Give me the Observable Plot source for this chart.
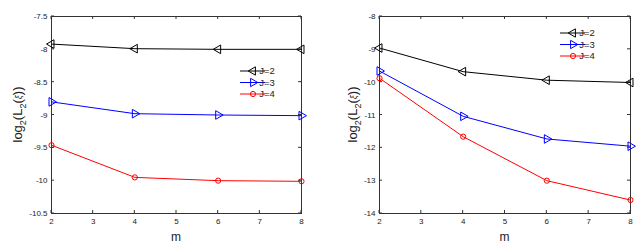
<!DOCTYPE html>
<html><head><meta charset="utf-8">
<script src="https://cdn.jsdelivr.net/npm/d3@7"></script>
<script src="https://cdn.jsdelivr.net/npm/@observablehq/plot@0.6"></script>
<style>
body{margin:0;background:#fff;font-family:"Liberation Sans",Arial,sans-serif}
#wrap{position:relative;width:639px;height:244px;overflow:hidden}
.panel{position:absolute;top:0}
</style></head><body><div id="wrap"></div>
<script>
const m = [2, 4, 6, 8];
const seriesNames = ["J=2", "J=3", "J=4"];
const leftJ2 = [-7.92, -7.99, -8.0, -8.0];
const leftJ3 = [-8.8, -8.98, -9.0, -9.01];
const leftJ4 = [-9.46, -9.95, -10.0, -10.01];
const rightJ2 = [-8.96, -9.68, -9.94, -10.01];
const rightJ3 = [-9.66, -11.04, -11.73, -11.95];
const rightJ4 = [-9.88, -11.66, -13.0, -13.59];
const xTicks = [2, 3, 4, 5, 6, 7, 8];
const leftYTicks = [-7.5, -8, -8.5, -9, -9.5, -10, -10.5];
const rightYTicks = [-8, -9, -10, -11, -12, -13, -14];

const colors = ["#000000", "#0000ff", "#ff0000"];
const symbols = ["triangle", "triangle", "circle"];
const rotations = [-90, 90, 0];

function rows(arrs) {
  const out = [];
  arrs.forEach((a, si) => a.forEach((v, i) => out.push({m: m[i], v, s: seriesNames[si]})));
  return out;
}

function panel({data, yDomain, yTicks, left, width, marginLeft, marginRight, legendX, legendY, ylabelX}) {
  const fmt = d => String(d);
  const marks = [Plot.frame({stroke: "#333", strokeWidth: 1})];
  seriesNames.forEach((s, si) => {
    const d = data.filter(r => r.s === s);
    marks.push(Plot.line(d, {x: "m", y: "v", stroke: colors[si], strokeWidth: 1}));
    marks.push(Plot.dot(d, {x: "m", y: "v", stroke: colors[si], fill: "none", symbol: symbols[si],
      rotate: rotations[si], r: si === 2 ? 2.6 : 3.2, strokeWidth: 1}));
  });
  marks.push(
    Plot.axisX(xTicks, {anchor: "bottom", tickSize: 0, tickPadding: 5, tickFormat: fmt, fontSize: 8, fill: "#222", label: null}),
    Plot.axisY(yTicks, {anchor: "left", tickSize: 0, tickPadding: 4, tickFormat: fmt, fontSize: 8, fill: "#222", label: null})
  );
  const svg = Plot.plot({
    width, height: 244,
    marginLeft, marginRight, marginTop: 16, marginBottom: 31,
    style: {fontFamily: "Liberation Sans, Arial, sans-serif", background: "transparent"},
    x: {domain: [2, 8], ticks: xTicks},
    y: {domain: yDomain},
    marks
  });
  const div = document.createElement("div");
  div.className = "panel";
  div.style.left = left + "px";
  div.appendChild(svg);
  document.getElementById("wrap").appendChild(div);

  // inward ticks on all four sides, using the rendered scales
  const sx = svg.scale("x"), sy = svg.scale("y");
  const g = d3.select(svg).append("g").attr("stroke", "#333").attr("stroke-width", 1);
  const x0 = marginLeft, x1 = width - marginRight, y0 = 16, y1 = 244 - 31;
  xTicks.forEach(t => {
    const px = sx.apply(t);
    g.append("line").attr("x1", px).attr("x2", px).attr("y1", y1).attr("y2", y1 - 3);
    g.append("line").attr("x1", px).attr("x2", px).attr("y1", y0).attr("y2", y0 + 3);
  });
  yTicks.forEach(t => {
    const py = sy.apply(t);
    g.append("line").attr("x1", x0).attr("x2", x0 + 3).attr("y1", py).attr("y2", py);
    g.append("line").attr("x1", x1).attr("x2", x1 - 3).attr("y1", py).attr("y2", py);
  });

  // x label
  d3.select(svg).append("text").attr("x", (x0 + x1) / 2).attr("y", 241)
    .attr("text-anchor", "middle").attr("font-size", 12).attr("fill", "#222").text("m");
  // y label with subscripts
  const yl = d3.select(svg).append("text")
    .attr("transform", `translate(${ylabelX},${(y0 + y1) / 2}) rotate(-90)`)
    .attr("text-anchor", "middle").attr("font-size", 13).attr("fill", "#222");
  yl.append("tspan").text("log");
  yl.append("tspan").attr("font-size", 9).attr("dy", 3.5).text("2");
  yl.append("tspan").attr("dy", -3.5).text("(L");
  yl.append("tspan").attr("font-size", 9).attr("dy", 3.5).text("2");
  yl.append("tspan").attr("dy", -3.5).text("(");
  yl.append("tspan").attr("font-size", 9).attr("font-style", "italic").text("ξ");
  yl.append("tspan").text("))");

  // legend
  const lg = d3.select(svg).append("g").attr("transform", `translate(${legendX},${legendY})`);
  seriesNames.forEach((s, si) => {
    const yy = si * 11.5;
    lg.append("line").attr("x1", 0).attr("x2", 25).attr("y1", yy).attr("y2", yy)
      .attr("stroke", colors[si]).attr("stroke-width", 1);
    const sym = d3.symbol(si === 2 ? d3.symbolCircle : d3.symbolTriangle, si === 2 ? 21 : 30)();
    lg.append("path").attr("d", sym).attr("fill", "none").attr("stroke", colors[si])
      .attr("transform", `translate(13,${yy}) rotate(${rotations[si]})`);
    lg.append("text").attr("x", 27).attr("y", yy).attr("dy", "0.35em")
      .attr("font-size", 9.5).attr("fill", "#222").text(s);
  });
}

panel({data: rows([leftJ2, leftJ3, leftJ4]), yDomain: [-10.5, -7.5], yTicks: leftYTicks,
  left: 0, width: 320, marginLeft: 51, marginRight: 19, legendX: 240, legendY: 71, ylabelX: 22});
panel({data: rows([rightJ2, rightJ3, rightJ4]), yDomain: [-14, -8], yTicks: rightYTicks,
  left: 320, width: 319, marginLeft: 59, marginRight: 9, legendX: 240, legendY: 33, ylabelX: 37});
</script></body></html>
